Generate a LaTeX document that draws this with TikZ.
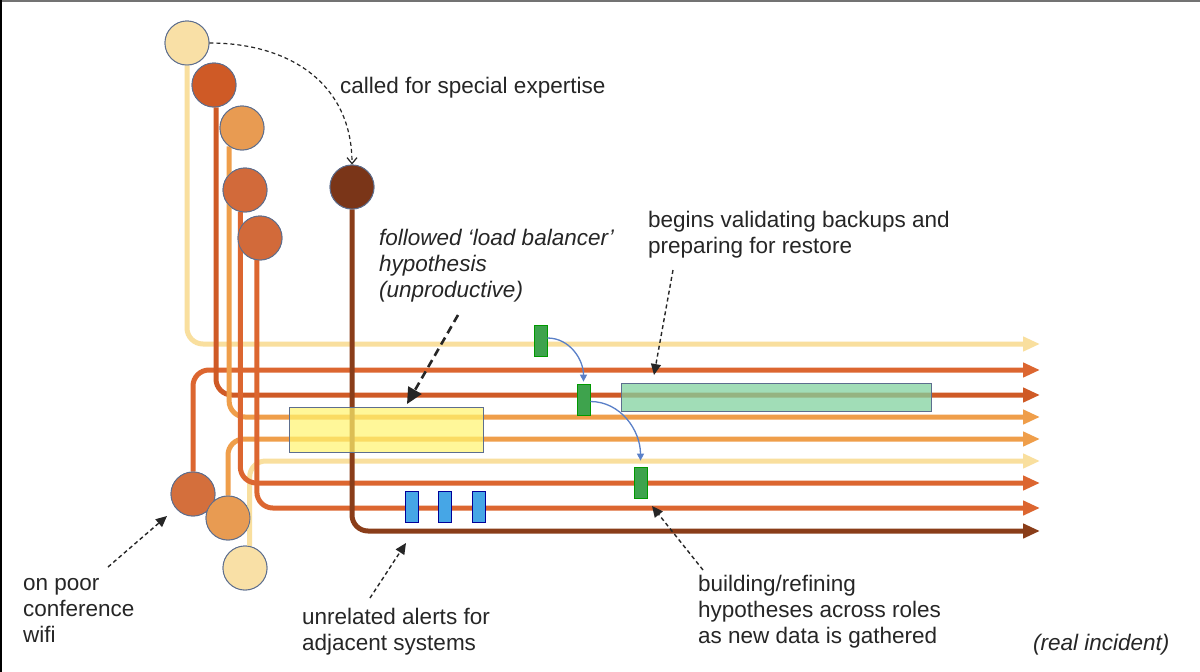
\documentclass[tikz,border=0pt]{standalone}
\usepackage{fontspec}
\setmainfont{Liberation Sans}
\usepackage{tikz}
\usetikzlibrary{positioning,arrows.meta,calc}

\definecolor{cream}{HTML}{F9DF9E}
\definecolor{creamfill}{HTML}{F9E0A6}
\definecolor{rust}{HTML}{CF5A26}
\definecolor{amber}{HTML}{EF9E4A}
\definecolor{amberfill}{HTML}{E89B52}
\definecolor{ember}{HTML}{DC6630}
\definecolor{emberfill}{HTML}{D26A3A}
\definecolor{umber}{HTML}{8A3D19}
\definecolor{umberfill}{HTML}{7A3518}
\definecolor{rim}{HTML}{5D6E8E}
\definecolor{ink}{HTML}{262626}
\definecolor{flowblue}{HTML}{5A80C8}

\tikzset{
  person/.style={circle, draw=rim, line width=0.9pt, minimum size=44pt, inner sep=0pt},
  track/.style={line width=5pt, rounded corners=16pt, -{Triangle[length=17pt,width=14pt]}},
  note/.style={ink, dash pattern=on 4pt off 3pt, line width=1.4pt, -{Triangle[length=11pt,width=10pt]}},
  remark/.style={anchor=base west, align=left, inner sep=0pt, text=ink, font=\fontsize{22.5}{26}\selectfont},
  tick/.style={draw=#1!60!black, line width=0.8pt, minimum width=13pt, minimum height=31pt, inner sep=0pt},
  flow/.style={flowblue, line width=1.3pt, -{Triangle[length=7pt,width=7pt]}},
}

\begin{document}
\begin{tikzpicture}[x=1pt,y=-1pt]

  \useasboundingbox (0,0) rectangle (1200,672);
  \fill[white] (0,0) rectangle (1200,672);
  \fill[black!55] (0,0) rectangle (1200,2);
  \fill[black] (0,0) rectangle (2,672);

  % people
  \node[person, fill=creamfill] (c1) at (187,43) {};
  \node[person, fill=rust] (c2) at (214,85) {};
  \node[person, fill=amberfill] (c3) at (242,128) {};
  \node[person, fill=emberfill] (c4) at (245,190) {};
  \node[person, fill=emberfill] (c5) at (260,238) {};
  \node[person, fill=umberfill] (c6) at (352,187) {};
  \node[person, fill=emberfill!90!amberfill] (c7) at (193,494) {};
  \node[person, fill=amberfill] (c8) at (228,518) {};
  \node[person, fill=creamfill] (c9) at (245,568) {};

  % arrow ends
  \coordinate (e1) at (1040,344);
  \coordinate (e2) at (1040,370);
  \coordinate (e3) at (1040,395);
  \coordinate (e4) at (1040,417);
  \coordinate (e5) at (1040,439);
  \coordinate (e6) at (1040,461);
  \coordinate (e7) at (1040,483);
  \coordinate (e8) at (1040,508);
  \coordinate (e9) at (1040,531);

  \draw[track, cream] (c1.south) |- (e1);
  \draw[track, ember] (c7.north) |- (e2);
  \draw[track, rust] ([xshift=2pt]c2.south) |- (e3);
  \draw[track, amber] (c3.235) |- (e4);
  \draw[track, amber] (c8.north) |- (e5);
  \draw[track, cream] (c9.78) |- (e6);
  \draw[track, ember] (c4.258) |- (e7);
  \draw[track, ember] (c5.262) |- (e8);
  \draw[track, umber] (c6.south) |- (e9);

  % people drawn again over their own tracks
  \foreach \c/\f in {c1/creamfill, c2/rust, c3/amberfill, c4/emberfill, c5/emberfill,
                     c6/umberfill, c7/emberfill!90!amberfill, c8/amberfill, c9/creamfill}
    \node[person, fill=\f] at (\c) {};

  % boxes
  \node[draw=rim, line width=0.8pt, fill={rgb,255:red,255;green,245;blue,110}, fill opacity=0.7,
        minimum width=194pt, minimum height=45pt, inner sep=0pt] (lb) at (386,429.5) {};
  \node[draw=rim, line width=0.8pt, fill={rgb,255:red,130;green,210;blue,160}, fill opacity=0.75,
        minimum width=310pt, minimum height=28pt, inner sep=0pt] (bk) at (776,397) {};

  \node[tick=green, fill={rgb,255:red,62;green,163;blue,77}] (g1) at (540.5,341) {};
  \node[tick=green, fill={rgb,255:red,62;green,163;blue,77}] (g2) at (583.5,399.5) {};
  \node[tick=green, fill={rgb,255:red,62;green,163;blue,77}] (g3) at (640.5,482.5) {};

  \node[tick=blue, fill={rgb,255:red,70;green,166;blue,230}] (a1) at (411.5,507) {};
  \node[tick=blue, fill={rgb,255:red,70;green,166;blue,230}] (a2) at (445,507) {};
  \node[tick=blue, fill={rgb,255:red,70;green,166;blue,230}] (a3) at (478.5,507) {};

  \draw[flow] ([yshift=3pt]g1.east) to[out=0, in=90] ($(g2.north)+(0,-2)$);
  \draw[flow] ([yshift=-2pt]g2.east) to[out=0, in=90] ($(g3.north)+(0,-6)$);

  % texts
  \node[remark] (tcall) at (340,93) {called for special expertise};
  \node[remark, font=\fontsize{22.5}{26}\selectfont\itshape] (tfollow) at (379,297)
    {followed `load balancer'\\hypothesis\\(unproductive)};
  \node[remark] (tbackup) at (648,253) {begins validating backups and\\preparing for restore};
  \node[remark] (twifi) at (23,642) {on poor\\conference\\wifi};
  \node[remark] (talert) at (302,650) {unrelated alerts for\\adjacent systems};
  \node[remark] (tbuild) at (698,643) {building/refining\\hypotheses across roles\\as new data is gathered};
  \node[remark, font=\fontsize{22.5}{26}\selectfont\itshape] (treal) at (1033,650) {(real incident)};

  % notes
  \coordinate (nf0) at (458,315);
  \coordinate (nf1) at (407,404);
  \coordinate (nb0) at (673,270);
  \coordinate (nb1) at (654,375);
  \coordinate (nw0) at (108,567);
  \coordinate (nw1) at (167,516);
  \coordinate (na0) at (370,598);
  \coordinate (na1) at (406,543);
  \coordinate (nr0) at (703,570);
  \coordinate (nr1) at (652,506);

  \draw[ink, dash pattern=on 4pt off 3pt, line width=1.2pt, -{Straight Barb[length=6pt,width=10pt]}]
    (c1.east) to[out=0, in=90, looseness=1.1] (c6.north);
  \draw[note, line width=2.6pt, dash pattern=on 8pt off 5pt, -{Triangle[length=16pt,width=15pt]}] (nf0) -- (nf1);
  \draw[note] (nb0) -- (nb1);
  \draw[note] (nw0) -- (nw1);
  \draw[note] (na0) -- (na1);
  \draw[note] (nr0) -- (nr1);

\end{tikzpicture}
\end{document}
